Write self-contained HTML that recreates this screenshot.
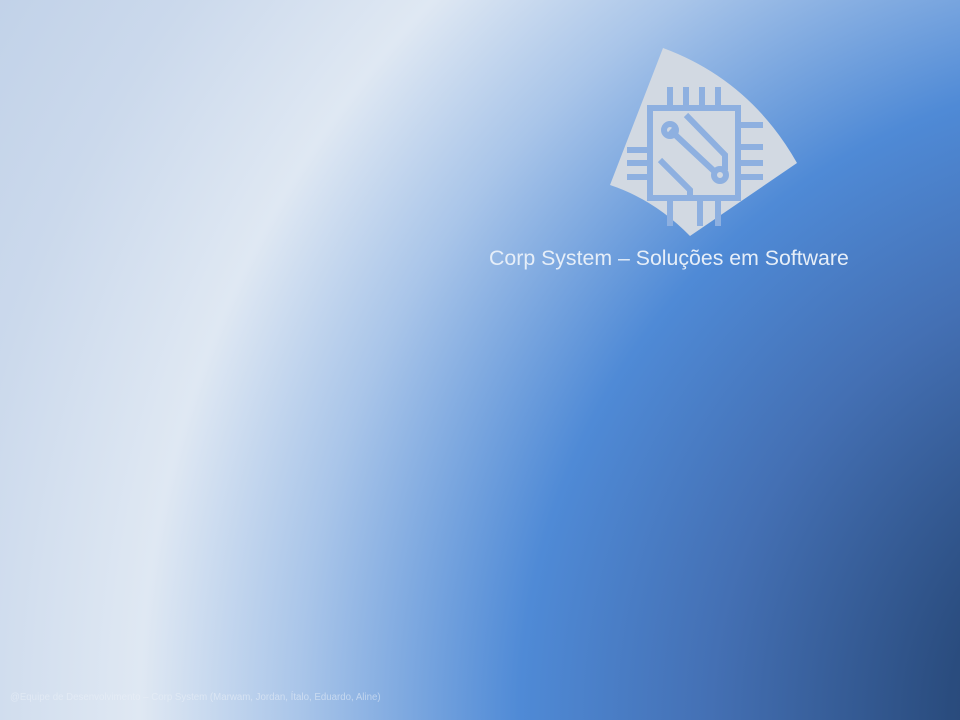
<!DOCTYPE html>
<html><head><meta charset="utf-8"><style>
html,body{margin:0;padding:0}
body{width:960px;height:720px;overflow:hidden;position:relative;font-family:"Liberation Sans",sans-serif;
background:radial-gradient(circle 1400px at 1170px 720px,#1c365f 0px,#2a4c7e 220px,#4470b4 460px,#4f8ad6 650px,#a9c5e9 870px,#dfe8f3 1030px,#cbd9ec 1220px,#c0d1e8 1400px);}
.t{position:absolute;left:489px;top:246px;font-size:21.3px;color:#e6eef8;white-space:nowrap}
.f{position:absolute;left:10px;top:692px;font-size:9.7px;color:rgba(235,240,248,0.55);white-space:nowrap}
</style></head><body>
<svg width="960" height="720" style="position:absolute;left:0;top:0">
<path d="M663,48 Q750,80 797,163 L690,236 Q655,200 610,185 Z" fill="#d2d9e2"/>
<g stroke="#8eb0e0" stroke-width="6" fill="none">
<rect x="650" y="108" width="88" height="90"/>
<line x1="670" y1="87" x2="670" y2="108"/><line x1="686" y1="87" x2="686" y2="108"/>
<line x1="702" y1="87" x2="702" y2="108"/><line x1="718" y1="87" x2="718" y2="108"/>
<line x1="627" y1="150" x2="650" y2="150"/><line x1="627" y1="163" x2="650" y2="163"/><line x1="627" y1="177" x2="650" y2="177"/>
<line x1="738" y1="125" x2="763" y2="125"/><line x1="738" y1="147" x2="763" y2="147"/><line x1="738" y1="163" x2="763" y2="163"/><line x1="738" y1="177" x2="763" y2="177"/>
<line x1="670" y1="198" x2="670" y2="226"/><line x1="700" y1="198" x2="700" y2="226"/><line x1="718" y1="198" x2="718" y2="226"/>
<path d="M670,130 L715,172"/><path d="M686,115 L725,155 L725,170"/><path d="M660,160 L690,190 L690,198"/>
<circle cx="670" cy="130" r="6"/><circle cx="720" cy="175" r="6"/>
</g>
</svg>
<div class="t">Corp System – Soluções em Software</div>
<div class="f">@Equipe de Desenvolvimento – Corp System (Marwam, Jordan,  Ítalo, Eduardo, Aline)</div>
</body></html>
